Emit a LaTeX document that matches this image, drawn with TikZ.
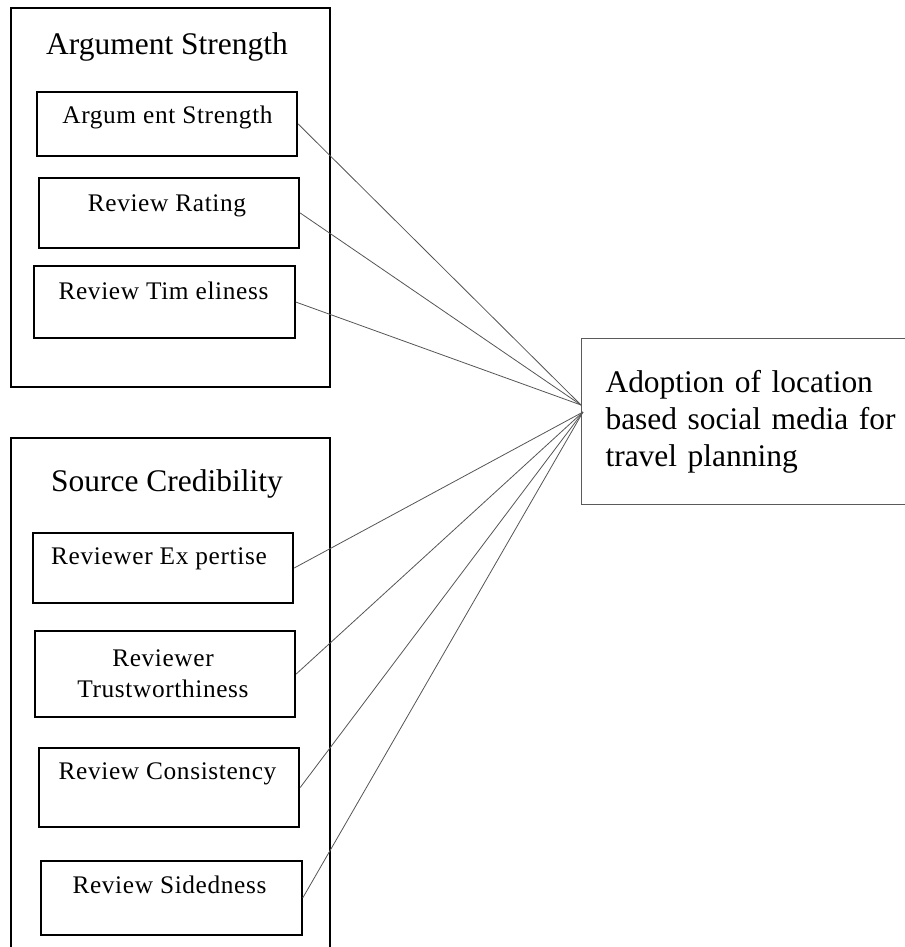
\documentclass[tikz,border=0pt]{standalone}
\usepackage{fontspec}
\setmainfont{Liberation Serif}
\newfontfamily\boxfont{Liberation Serif}[LetterSpace=2.5]

\tikzset{every picture/.style={line width=0.75pt}}

\begin{document}
\begin{tikzpicture}[x=0.75pt,y=0.75pt,yscale=-1,xscale=1,
    group/.style={line width=1.5pt},
    grouptitle/.style={font=\fontsize{23.6}{28}\selectfont, inner sep=0},
    itembox/.style={draw, line width=1.3pt, inner sep=0, minimum width=195.5pt},
    itemtext/.style={font=\boxfont\fontsize{19}{23.25}\selectfont, inner sep=0, align=center},
    target/.style={draw={rgb, 255:red, 90; green, 90; blue, 90}, line width=0.8pt, anchor=north west,
      minimum width=261pt, minimum height=124.5pt, text width=225pt, inner xsep=18pt, align=left,
      font=\fontsize{23.6}{27.6}\selectfont},
    link/.style={color={rgb, 255:red, 85; green, 85; blue, 85}, line width=0.6pt}]
  \useasboundingbox (0,0) rectangle (905,947);

  % argument strength group
  \draw[group] (11,8) rectangle (330,387);
  \node[grouptitle] (argTitle) at (167,47) {Argument Strength};
  \node[itembox, minimum height=48pt] (as) at (167,124) {};
  \node[itemtext, text height=13pt, text depth=4pt] (asText) at (167.5,117) {Argum ent Strength};
  \node[itembox, minimum height=52.5pt] (rating) at (169,213) {};
  \node[itemtext, text height=13pt, text depth=4pt] (ratingText) at (167,205) {Review Rating};
  \node[itembox, minimum height=54pt] (time) at (164.5,302) {};
  \node[itemtext, text height=13pt, text depth=4pt] (timeText) at (163.5,293) {Review Tim eliness};

  % source credibility group
  \draw[group] (11,950) |- (330,438) -- (330,950);
  \node[grouptitle] (srcTitle) at (167,484) {Source Credibility};
  \node[itembox, minimum height=52.5pt] (exp) at (163,568) {};
  \node[itemtext, text height=13pt, text depth=4pt] (expText) at (159,558) {Reviewer Ex pertise};
  \node[itembox, minimum height=64.5pt] (trust) at (165,674) {};
  \node[itemtext] (trustText) at (163,673.5) {Reviewer\\Trustworthiness};
  \node[itembox, minimum height=59.25pt] (cons) at (169,787.5) {};
  \node[itemtext, text height=13pt, text depth=4pt] (consText) at (167.5,773) {Review Consistency};
  \node[itembox, minimum height=55.5pt] (side) at (171.5,898) {};
  \node[itemtext, text height=13pt, text depth=4pt] (sideText) at (169.5,887) {Review Sidedness};

  % outcome
  \node[target] (adopt) at (581,338) {Adoption of location\\based social media for\\travel planning};
  \coordinate (hubU) at (581,405);
  \coordinate (hubL) at (583,412);

  \draw[link] (as.east) -- (hubU);
  \draw[link] (rating.east) -- (hubU);
  \draw[link] (time.east) -- (hubU);
  \draw[link] (exp.east) -- (hubL);
  \draw[link] (trust.east) -- (hubL);
  \draw[link] (cons.east) -- (hubL);
  \draw[link] (side.east) -- (hubL);
\end{tikzpicture}
\end{document}
